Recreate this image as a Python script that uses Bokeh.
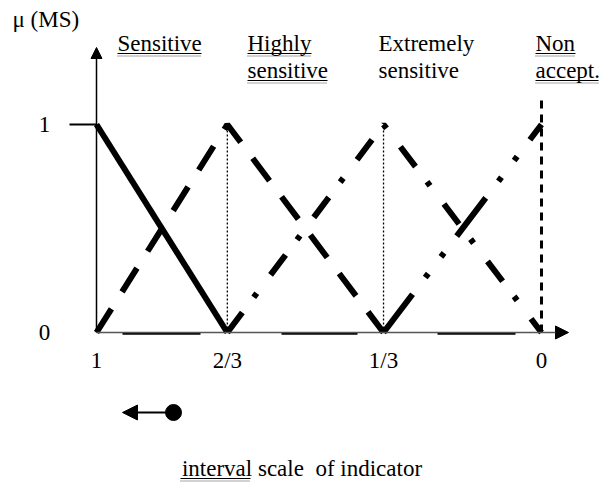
from bokeh.plotting import figure
from bokeh.models import Range1d, Label, Arrow, NormalHead
from bokeh.core.properties import value
from bokeh.embed import file_html
from bokeh.resources import INLINE

# ---- data ----
tick_labels = ["1", "2/3", "1/3", "0"]          # interval scale of indicator
tick_pos = [0.0, 0.294, 0.645, 1.0]              # position of each tick along the axis
mu_ticks = [1, 0]
mu_tick_labels = ["1", "0"]

sens_x = [0.0, 0.294]
sens_mu = [1, 0]
high_x = [0.0, 0.294, 0.645]
high_mu = [0, 1, 0]
ext_x = [0.294, 0.645, 1.0]
ext_mu = [0, 1, 0]
non_x = [0.645, 1.0]
non_mu = [0, 1]

# ---- layout helpers (pixel positions of the reference -> data) ----
W, H = 600, 491
X0, XS = 96.0, 445.0
Y0, YS = 332.0, 208.0
TS = 8.0   # text is drawn this much lower than its nominal baseline
def dx(px):
    return (px - X0) / XS
def dy(py):
    return (Y0 - py) / YS

FONT = "Liberation Serif, Times New Roman, DejaVu Serif, serif"
FS = "23px"

p = figure(width=W, height=H, output_backend="svg", toolbar_location=None,
           x_range=Range1d(dx(0), dx(W)), y_range=Range1d(dy(H), dy(0)),
           x_axis_location=None, y_axis_location=None, min_border=0,
           title=None)
p.grid.visible = False
p.outline_line_color = None
p.background_fill_color = "white"
p.border_fill_color = "white"

# axes
p.line([dx(69), 0], [1, 1], line_color="black", line_width=2)
p.add_layout(Arrow(end=NormalHead(size=11, fill_color="black", line_color="black"),
                   x_start=0, y_start=0, x_end=0, y_end=dy(47),
                   line_color="black", line_width=1.5))
p.add_layout(Arrow(end=NormalHead(size=13, fill_color="black", line_color="black"),
                   x_start=0, y_start=0, x_end=dx(568), y_end=0,
                   line_color="#555555", line_width=1.5))
for a, b in [(122, 200), (281, 357), (437, 515)]:
    p.line([dx(a), dx(b)], [dy(333), dy(333)], line_color="black", line_width=2.5)

# guide lines
for xv in tick_pos[1:3]:
    p.line([xv, xv], [0, 1], line_color="black", line_width=1.3, line_dash="2 2")
p.line([tick_pos[3], tick_pos[3]], [0, dy(98)], line_color="black", line_width=3, line_dash="8 6")

# membership functions
LW = 6
p.line(sens_x, sens_mu, line_color="black", line_width=LW)
p.line(high_x, high_mu, line_color="black", line_width=LW, line_dash="28 20")
p.line(ext_x, ext_mu, line_color="black", line_width=LW, line_dash="25 19 5 23")
p.line(non_x, non_mu, line_color="black", line_width=LW, line_dash="48 21 5 21 5 21")

# tick labels
p.text(x=tick_pos, y=[dy(368 - TS)] * len(tick_pos), text=tick_labels,
       text_font=value(FONT), text_font_size=FS, text_align="center",
       text_baseline="alphabetic", text_color="black")
p.text(x=[dx(44)] * 2, y=[m + (TS - 8) / YS for m in mu_ticks], text=mu_tick_labels,
       text_font=value(FONT), text_font_size=FS, text_align="center",
       text_baseline="alphabetic", text_color="black")

def lab(txt, px, py, align="left"):
    p.add_layout(Label(x=dx(px), y=dy(py - TS), text=txt, text_font=FONT, text_font_size=FS,
                       text_align=align, text_baseline="alphabetic", text_color="black"))

def underline(px, w, base):
    p.line([dx(px), dx(px + w)], [dy(base + 2), dy(base + 2)], line_color="black", line_width=1)
    p.line([dx(px), dx(px + w)], [dy(base + 4.5), dy(base + 4.5)], line_color="#888888",
           line_width=1.5, line_dash="1 1")

lab("\u03bc (MS)", 12, 27)
lab("Sensitive", 117, 51); underline(117, 84, 51)
lab("Highly", 247, 51); underline(247, 64, 51)
lab("sensitive", 247, 78); underline(247, 80, 78)
lab("Extremely", 378, 51)
lab("sensitive", 378, 78)
lab("Non", 535, 51); underline(535, 40, 51)
lab("accept.", 535, 78); underline(535, 63, 78)

# direction marker
p.add_layout(Arrow(end=NormalHead(size=15, fill_color="black", line_color="black"),
                   x_start=dx(173), y_start=dy(412), x_end=dx(122), y_end=dy(412),
                   line_color="black", line_width=2))
p.scatter([dx(173)], [dy(412)], size=16, color="black")

lab("interval scale\u00a0 of indicator", 301.5, 476, align="center")
underline(180, 70, 476)

open("out.html", "w").write(file_html(p, INLINE))
